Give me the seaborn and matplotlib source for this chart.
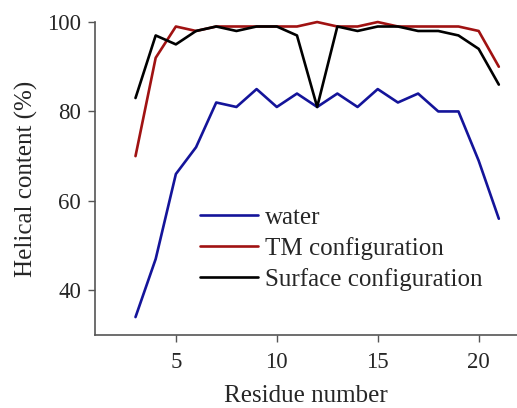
import matplotlib
matplotlib.use('Agg')
import matplotlib.pyplot as plt
import seaborn as sns
import pandas as pd

residues = list(range(3, 22))
water = [34, 47, 66, 72, 82, 81, 85, 81, 84, 81, 84, 81, 85, 82, 84, 80, 80, 69, 56]
tm_config = [70, 92, 99, 98, 99, 99, 99, 99, 99, 100, 99, 99, 100, 99, 99, 99, 99, 98, 90]
surface_config = [83, 97, 95, 98, 99, 98, 99, 99, 97, 81, 99, 98, 99, 99, 98, 98, 97, 94, 86]

series_names = ["water", "TM configuration", "Surface configuration"]
colors = {"water": "#14149a", "TM configuration": "#a01212", "Surface configuration": "#000000"}

frames = []
for name, vals in zip(series_names, [water, tm_config, surface_config]):
    frames.append(pd.DataFrame({"Residue": residues, "Helix": vals, "series": name}))
df = pd.concat(frames, ignore_index=True)

sns.set_style("ticks")
plt.rcParams['font.family'] = ['Liberation Serif', 'DejaVu Serif']

fig = plt.figure(figsize=(5.17, 4.08), dpi=100)
ax = fig.add_axes([0.184, 0.179, 0.816, 0.767])

sns.lineplot(data=df, x="Residue", y="Helix", hue="series", hue_order=series_names,
             palette=colors, linewidth=1.9, ax=ax, legend=True)
for line in ax.lines:
    line.set_clip_on(False)

ax.set_xlim(1, 21.9)
ax.set_ylim(30, 100)
ax.set_xticks([5, 10, 15, 20])
ax.set_yticks([40, 60, 80, 100])
ax.set_xlabel("Residue number", fontsize=18, labelpad=9)
ax.set_ylabel("Helical content (%)", fontsize=18, labelpad=7)
ax.tick_params(labelsize=16.5, length=5, width=1, color="#555555", direction="out", pad=5)
ax.tick_params(axis="x", pad=7)
sns.despine(ax=ax)
for side in ["left", "bottom"]:
    ax.spines[side].set_color("#555555")
    ax.spines[side].set_linewidth(1.2)

handles, labels = ax.get_legend_handles_labels()
ax.legend(handles, labels, loc="center left", bbox_to_anchor=(0.249, 0.275),
          frameon=False, fontsize=18, handlelength=2.3, handletextpad=0.3,
          labelspacing=0.32, borderpad=0, borderaxespad=0)

fig.savefig("out.png", dpi=100)
